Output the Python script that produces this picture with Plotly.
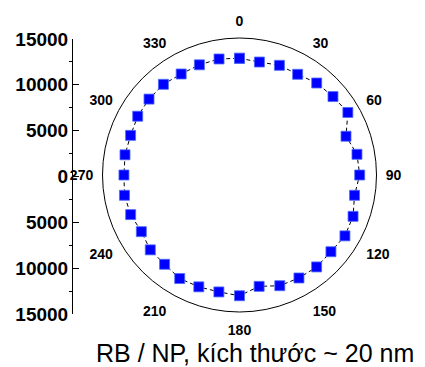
import plotly.graph_objects as go

angles = [0, 10, 20, 30, 40, 50, 60, 70, 80, 90, 100, 110, 120, 130, 140, 150, 160, 170,
          180, 190, 200, 210, 220, 230, 240, 250, 260, 270, 280, 290, 300, 310, 320, 330, 340, 350]
values = [12780, 12560, 12780, 12730, 13150, 13360, 13700, 12410, 13060, 13160,
          12790, 13230, 13330, 13070, 13140, 13020, 12900, 12380, 13220, 13000,
          13030, 13090, 12760, 12750, 12410, 12680, 12790, 12650, 12730, 12690,
          12870, 12930, 12960, 12770, 12840, 12900]
angle_ticks = [0, 30, 60, 90, 120, 150, 180, 210, 240, 270, 300, 330]
radial_tickvals = [-15000, -10000, -5000, 0, 5000, 10000, 15000]
radial_ticktext = ["15000", "10000", "5000", "0", "5000", "10000", "15000"]
radial_minor = [-12500, -7500, -2500, 2500, 7500, 12500]
title_text = "RB / NP, kích thước ~ 20 nm"

W, H = 425, 367
cx, cy, R = 239.5, 175.0, 137.0
FONT = "Arial, Liberation Sans, sans-serif"

fig = go.Figure()
fig.add_trace(go.Scatterpolar(
    r=values + values[:1], theta=angles + angles[:1],
    mode="lines+markers",
    line=dict(color="black", width=1, dash="4px,3px"),
    marker=dict(symbol="square", size=10, color="#0000FF",
                line=dict(color="#4d6bff", width=0.8)),
    hoverinfo="skip", showlegend=False,
))
# helper trace to show the cartesian radial scale
fig.add_trace(go.Scatter(x=[0], y=[0], mode="markers", marker=dict(opacity=0),
                         hoverinfo="skip", showlegend=False))

fig.update_layout(
    width=W, height=H,
    margin=dict(l=0, r=0, t=0, b=0, pad=0, autoexpand=False),
    paper_bgcolor="white", plot_bgcolor="rgba(0,0,0,0)",
    font=dict(family=FONT, color="black"),
    polar=dict(
        domain=dict(x=[(cx - R) / W, (cx + R) / W], y=[1 - (cy + R) / H, 1 - (cy - R) / H]),
        bgcolor="white",
        angularaxis=dict(
            rotation=90, direction="clockwise",
            tickmode="array", tickvals=angle_ticks, ticktext=[str(a) for a in angle_ticks],
            showgrid=False, showline=True, linecolor="black", linewidth=1,
            ticks="outside", ticklen=6, tickcolor="rgba(0,0,0,0)",
            tickfont=dict(size=14, family=FONT, weight="bold"),
        ),
        radialaxis=dict(range=[0, 15000], visible=False, showgrid=False),
    ),
    xaxis=dict(visible=False, domain=[0.9, 1.0], range=[-1, 1], automargin=False),
    yaxis=dict(
        domain=[1 - 314 / H, 1 - 39 / H],
        anchor="free", position=72 / W, side="left", automargin=False,
        range=[-15000, 15000],
        tickmode="array", tickvals=radial_tickvals, ticktext=radial_ticktext,
        ticks="inside", ticklen=6, tickcolor="black",
        showline=True, linecolor="black", linewidth=1,
        showgrid=False, zeroline=False,
        tickfont=dict(size=19, family=FONT, weight="bold"),
        minor=dict(tickvals=radial_minor, ticks="outside", ticklen=3, tickcolor="black", showgrid=False),
    ),
    annotations=[dict(
        text=title_text, x=255 / W, y=1 - 353 / H, xref="paper", yref="paper",
        xanchor="center", yanchor="middle", showarrow=False,
        font=dict(size=25, family=FONT, color="black"),
    )],
)

fig.write_html("out.html")
